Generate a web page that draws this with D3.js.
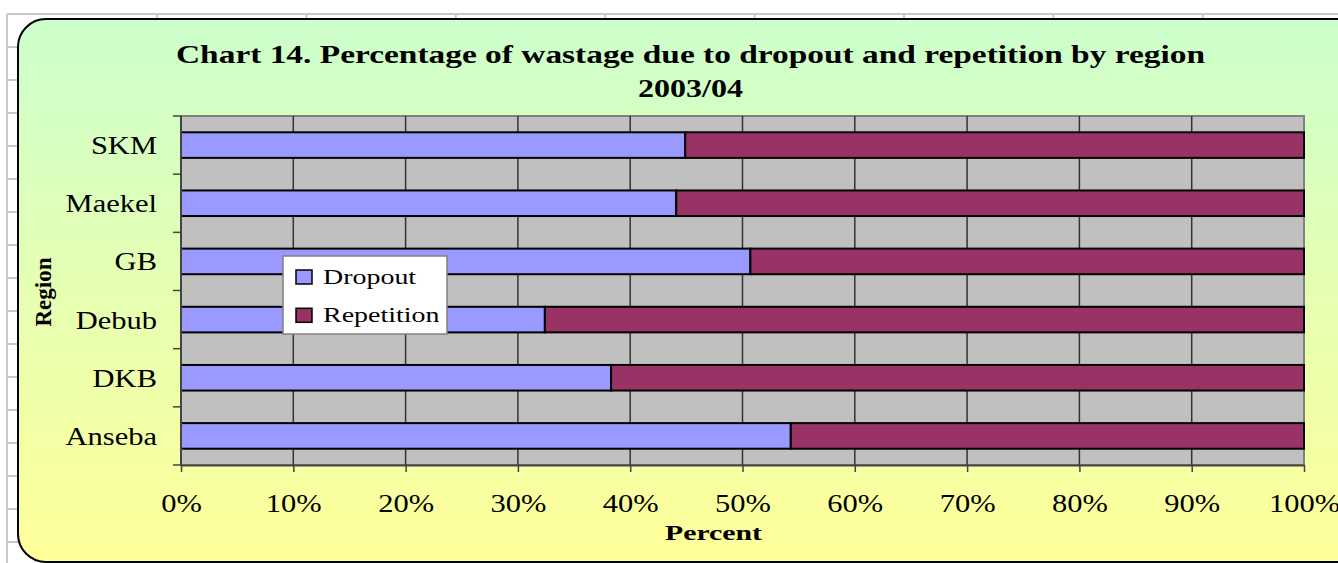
<!DOCTYPE html>
<html>
<head>
<meta charset="utf-8">
<script src="https://cdn.jsdelivr.net/npm/d3@7"></script>
<style>
  body { margin: 0; background: #fff; }
  svg { display: block; font-family: "Liberation Serif", "Times New Roman", serif; }
</style>
</head>
<body>
<script>
// 100% stacked bar chart, regions bottom to top like Excel
var categories = ["Anseba", "DKB", "Debub", "GB", "Maekel", "SKM"];
var dropout = [54.3, 38.3, 32.4, 50.7, 44.1, 44.9];
var repetition = [45.7, 61.7, 67.6, 49.3, 55.9, 55.1];
var seriesNames = ["Dropout", "Repetition"];
var seriesColors = ["#9999ff", "#993366"];
var xTicks = [0, 0.1, 0.2, 0.3, 0.4, 0.5, 0.6, 0.7, 0.8, 0.9, 1];
var xTickLabels = ["0%", "10%", "20%", "30%", "40%", "50%", "60%", "70%", "80%", "90%", "100%"];

var width = 1338, height = 563;
var plot = {left: 181, right: 1304, top: 116, bottom: 465};

var rows = categories.map(function(c, i) {
  return {region: c, Dropout: dropout[i], Repetition: repetition[i]};
});
var stacked = d3.stack().keys(seriesNames).offset(d3.stackOffsetExpand)(rows);

var x = d3.scaleLinear().domain([0, 1]).range([plot.left, plot.right]);
var y = d3.scaleBand()
          .domain(categories.slice().reverse()) // SKM on top
          .range([plot.top, plot.bottom])
          .paddingInner(0.56)
          .paddingOuter(0.28);
var yEdges = d3.scaleLinear().domain([0, categories.length]).range([plot.top, plot.bottom]);

var svg = d3.select("body").append("svg")
            .attr("width", width)
            .attr("height", height);

// stretch text horizontally like the squashed screenshot
function stretch(sel, f) {
  sel.each(function() {
    var len = this.getComputedTextLength();
    d3.select(this).attr("textLength", len * f).attr("lengthAdjust", "spacingAndGlyphs");
  });
}

// spreadsheet grid peeking out behind the chart
var sheet = svg.append("g").attr("stroke", "#c8c8c8").attr("stroke-width", 2);
sheet.append("line").attr("x1", 7).attr("x2", width).attr("y1", 14).attr("y2", 14);
sheet.append("line").attr("x1", 7).attr("x2", 7).attr("y1", 14).attr("y2", height);
sheet.selectAll(".sv").data(d3.range(157, width, 149.4)).enter().append("line")
     .attr("x1", function(d) { return d; }).attr("x2", function(d) { return d; })
     .attr("y1", 14).attr("y2", 20);
sheet.selectAll(".sh").data(d3.range(47, height, 33)).enter().append("line")
     .attr("x1", 7).attr("x2", 18)
     .attr("y1", function(d) { return d; }).attr("y2", function(d) { return d; });

// chart area background
var defs = svg.append("defs");
var grad = defs.append("linearGradient").attr("id", "bg")
               .attr("x1", 0).attr("y1", 0).attr("x2", 0).attr("y2", 1);
grad.append("stop").attr("offset", "0%").attr("stop-color", "#ccffcc");
grad.append("stop").attr("offset", "100%").attr("stop-color", "#ffff99");

svg.append("rect")
   .attr("x", 18).attr("y", 19)
   .attr("width", 1350).attr("height", 543)
   .attr("rx", 28).attr("ry", 28)
   .attr("fill", "url(#bg)")
   .attr("stroke", "#000")
   .attr("stroke-width", 2);

// title
var title = svg.append("g").attr("font-weight", "bold").attr("font-size", 26).attr("text-anchor", "middle");
title.append("text").attr("x", 690.5).attr("y", 63)
     .text("Chart 14. Percentage of wastage due to dropout and repetition by region")
     .attr("textLength", 1029).attr("lengthAdjust", "spacingAndGlyphs");
title.append("text").attr("x", 690.5).attr("y", 97)
     .text("2003/04")
     .attr("textLength", 105).attr("lengthAdjust", "spacingAndGlyphs");

// plot area
svg.append("rect")
   .attr("x", plot.left).attr("y", plot.top)
   .attr("width", plot.right - plot.left).attr("height", plot.bottom - plot.top)
   .attr("fill", "#c0c0c0")
   .attr("stroke", "#808080")
   .attr("stroke-width", 2);

svg.append("g").selectAll("line")
   .data(xTicks.slice(1, -1)).enter().append("line")
   .attr("x1", function(d) { return x(d); }).attr("x2", function(d) { return x(d); })
   .attr("y1", plot.top).attr("y2", plot.bottom)
   .attr("stroke", "#333").attr("stroke-width", 1.5);

// bars
svg.append("g").selectAll("g")
   .data(stacked).enter().append("g")
   .attr("fill", function(d, i) { return seriesColors[i]; })
   .selectAll("rect")
   .data(function(d) { return d; }).enter().append("rect")
   .attr("x", function(d) { return x(d[0]); })
   .attr("width", function(d) { return x(d[1]) - x(d[0]); })
   .attr("y", function(d) { return y(d.data.region); })
   .attr("height", y.bandwidth())
   .attr("stroke", "#000")
   .attr("stroke-width", 2);

// x axis
var xAxis = d3.axisBottom(x)
              .tickValues(xTicks)
              .tickFormat(function(d, i) { return xTickLabels[i]; })
              .tickSize(7)
              .tickSizeOuter(0)
              .tickPadding(22);
var gx = svg.append("g")
            .attr("transform", "translate(0," + plot.bottom + ")")
            .call(xAxis);
gx.select(".domain").attr("stroke", "#444").attr("stroke-width", 2);
gx.selectAll(".tick line").attr("stroke", "#444").attr("stroke-width", 1.5);
gx.selectAll(".tick text")
  .attr("font-family", "Liberation Serif, serif")
  .attr("font-size", 25).attr("fill", "#000")
  .attr("dy", null).attr("y", 47)
  .call(stretch, 1.22);

// y axis: labels at band centres, ticks at band edges
svg.append("line")
   .attr("x1", plot.left).attr("x2", plot.left)
   .attr("y1", plot.top).attr("y2", plot.bottom)
   .attr("stroke", "#444").attr("stroke-width", 2);
svg.append("g").selectAll("line")
   .data(d3.range(categories.length + 1)).enter().append("line")
   .attr("x1", plot.left - 8).attr("x2", plot.left)
   .attr("y1", function(d) { return yEdges(d); }).attr("y2", function(d) { return yEdges(d); })
   .attr("stroke", "#444").attr("stroke-width", 1.5);
svg.append("g").selectAll("text")
   .data(categories).enter().append("text")
   .attr("x", 157)
   .attr("y", function(d) { return y(d) + y.bandwidth() / 2 + 9; })
   .attr("text-anchor", "end")
   .attr("font-size", 25)
   .text(function(d) { return d; })
   .call(stretch, 1.22);

// axis titles
svg.append("text")
   .attr("x", 713.5).attr("y", 540)
   .attr("text-anchor", "middle")
   .attr("font-weight", "bold").attr("font-size", 22)
   .text("Percent")
   .attr("textLength", 97).attr("lengthAdjust", "spacingAndGlyphs");
svg.append("text")
   .attr("transform", "translate(51,292) rotate(-90)")
   .attr("text-anchor", "middle")
   .attr("font-weight", "bold").attr("font-size", 23)
   .text("Region");

// legend
var legend = svg.append("g").attr("transform", "translate(283,256)");
legend.append("rect")
      .attr("width", 164).attr("height", 78)
      .attr("fill", "#fff").attr("stroke", "#808080").attr("stroke-width", 1.5);
var items = legend.selectAll(".item")
                  .data(seriesNames).enter().append("g")
                  .attr("transform", function(d, i) { return "translate(13," + (14 + i * 38.3) + ")"; });
items.append("rect")
     .attr("width", 16).attr("height", 14)
     .attr("fill", function(d, i) { return seriesColors[i]; })
     .attr("stroke", "#000").attr("stroke-width", 1.5);
items.append("text")
     .attr("x", 27).attr("y", 13.5)
     .attr("font-size", 22)
     .text(function(d) { return d; })
     .call(stretch, 1.27);
</script>
</body>
</html>
